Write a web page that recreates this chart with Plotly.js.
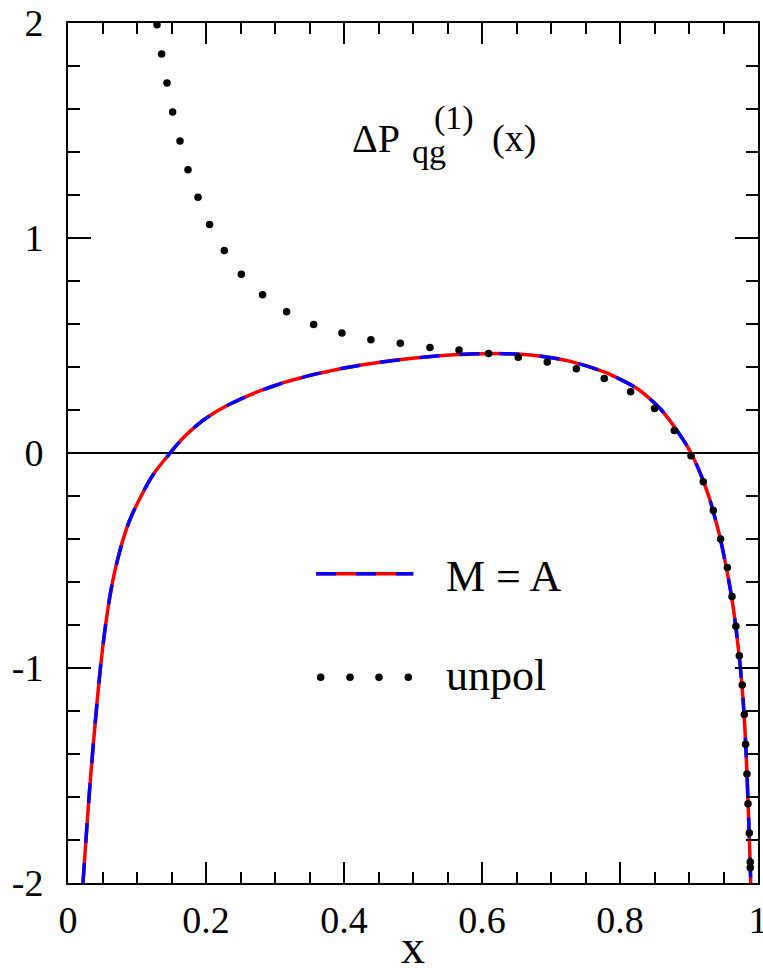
<!DOCTYPE html>
<html>
<head>
<meta charset="utf-8">
<script src="https://cdn.plot.ly/plotly-3.0.1.min.js"></script>
<style>
  html, body { margin: 0; padding: 0; background: #fff; }
  #chart { width: 763px; height: 973px; }
</style>
</head>
<body>
<div id="chart"></div>
<script>
// Polarized NLO splitting function ΔP_qg^(1)(x)
const xPol = [0.0217, 0.026, 0.0305, 0.0355, 0.041, 0.047, 0.0545, 0.0645, 0.08, 0.091, 0.106, 0.1235,
  0.148, 0.16, 0.17, 0.18, 0.192, 0.205, 0.22, 0.235, 0.25, 0.265, 0.28, 0.30, 0.317, 0.34, 0.36,
  0.38, 0.40, 0.425, 0.45, 0.49, 0.535, 0.583, 0.631, 0.68, 0.728, 0.776, 0.80, 0.8246, 0.842,
  0.860, 0.8835, 0.903, 0.917, 0.9285, 0.9375, 0.9455, 0.952, 0.958, 0.9632, 0.9675, 0.9712,
  0.9745, 0.9795, 0.9828, 0.9853, 0.9875, 0.9895];
const yPol = [-2.0, -1.8, -1.6, -1.4, -1.2, -1.0, -0.8, -0.6, -0.4, -0.3, -0.2, -0.1,
  0.0, 0.046, 0.08, 0.11, 0.143, 0.172, 0.202, 0.228, 0.251, 0.272, 0.291, 0.314, 0.332, 0.352, 0.368,
  0.382, 0.395, 0.409, 0.421, 0.437, 0.451, 0.46, 0.462, 0.452, 0.426, 0.378, 0.343, 0.300, 0.256,
  0.2, 0.1, 0.0, -0.1, -0.2, -0.3, -0.4, -0.5, -0.6, -0.7, -0.8, -0.9,
  -1.0, -1.2, -1.4, -1.6, -1.8, -2.0];

// Unpolarized counterpart
const xUnpol = [0.129, 0.1357, 0.1435, 0.1516, 0.1623, 0.1739, 0.1884, 0.2052, 0.2265, 0.2512,
  0.282, 0.3168, 0.356, 0.397, 0.439, 0.4816, 0.5246, 0.5667, 0.6096, 0.6526, 0.6946, 0.7367,
  0.7772, 0.8154, 0.850, 0.8787, 0.9029, 0.9207, 0.9352, 0.9458, 0.9555, 0.9623, 0.968, 0.9729,
  0.9772, 0.9801, 0.982, 0.984, 0.9855, 0.9874, 0.9888, 0.9888];
const yUnpol = [1.992, 1.856, 1.721, 1.586, 1.451, 1.318, 1.189, 1.063, 0.942, 0.831,
  0.736, 0.657, 0.598, 0.558, 0.527, 0.510, 0.491, 0.479, 0.463, 0.445, 0.423, 0.392,
  0.347, 0.285, 0.2075, 0.105, -0.0126, -0.1335, -0.267, -0.400, -0.533, -0.668, -0.806, -0.943,
  -1.079, -1.216, -1.355, -1.493, -1.631, -1.767, -1.902, -1.929];

const yTickVals = [-2, -1, 0, 1, 2];
const yTickText = ['-2', '-1', '0', '1', '2'];
const xTickVals = [0, 0.2, 0.4, 0.6, 0.8, 1];
const xTickText = ['0', '0.2', '0.4', '0.6', '0.8', '1'];

const legendLabels = ['M = A', 'unpol'];
const xAxisLabel = 'x';

const FONT = "'Liberation Serif', 'Times New Roman', serif";

const traces = [
  { x: xPol, y: yPol, mode: 'lines', line: { color: '#ff0000', width: 3.5, shape: 'spline', smoothing: 1 }, hoverinfo: 'skip' },
  { x: xPol, y: yPol, mode: 'lines', line: { color: '#0000ff', width: 3.5, dash: '20px,20px', shape: 'spline', smoothing: 1 }, hoverinfo: 'skip' },
  { x: xUnpol, y: yUnpol, mode: 'markers', marker: { color: '#000', size: 7.5 }, hoverinfo: 'skip' }
];

// plot box in pixels: left 68, right 758, top 23, bottom 883
const px = v => (v - 68) / 690;
const py = v => (883 - v) / 860;

const legendDots = [320.7, 350, 379, 408.3].map(cx => ({
  type: 'circle', xref: 'paper', yref: 'paper', xsizemode: 'pixel', ysizemode: 'pixel',
  xanchor: px(cx), yanchor: py(677.3), x0: -3.8, x1: 3.8, y0: -3.8, y1: 3.8,
  fillcolor: '#000', line: { width: 0 }
}));

const shapes = [
  { type: 'line', xref: 'paper', yref: 'paper', x0: px(316), x1: px(413.3), y0: py(573.7), y1: py(573.7),
    line: { color: '#ff0000', width: 3.5 } },
  { type: 'line', xref: 'paper', yref: 'paper', x0: px(316), x1: px(413.3), y0: py(573.7), y1: py(573.7),
    line: { color: '#0000ff', width: 3.5, dash: '20px,20px' } },
  ...legendDots
];

const ann = (text, x, y, size, xanchor) => ({
  text, xref: 'paper', yref: 'paper', x, y, xanchor: xanchor || 'left', yanchor: 'middle',
  showarrow: false, borderpad: 0, font: { family: FONT, size, color: '#000' }
});

const annotations = [
  ann('ΔP', px(351), py(138), 40),
  ann('qg', px(411), py(151), 34),
  ann('(1)', px(433), py(118), 34),
  ann('(x)', px(491), py(138), 38),
  ann(legendLabels[0], px(445), py(576), 44),
  ann(legendLabels[1], px(445), py(675), 44),
  ann(xAxisLabel, px(413), py(946), 48, 'center')
];

const layout = {
  width: 763, height: 973,
  margin: { l: 68, r: 5, t: 23, b: 90 },
  paper_bgcolor: '#fff', plot_bgcolor: '#fff',
  showlegend: false,
  font: { family: FONT, color: '#000' },
  xaxis: {
    range: [0, 1], tickvals: xTickVals, ticktext: xTickText,
    ticks: 'inside', ticklen: 21, tickwidth: 2, tickcolor: '#000',
    minor: { dtick: 0.05, ticks: 'inside', ticklen: 11, tickwidth: 2, tickcolor: '#000', showgrid: false },
    showline: true, linecolor: '#000', linewidth: 2, mirror: 'ticks',
    showgrid: false, zeroline: false,
    tickfont: { family: FONT, size: 38, color: '#000' },
    ticklabelstandoff: 2,
    ticklabeloverflow: 'allow'
  },
  yaxis: {
    range: [-2, 2], tickvals: yTickVals, ticktext: yTickText,
    ticks: 'inside', ticklen: 23, tickwidth: 2, tickcolor: '#000',
    minor: { dtick: 0.2, ticks: 'inside', ticklen: 12, tickwidth: 2, tickcolor: '#000', showgrid: false },
    showline: true, linecolor: '#000', linewidth: 2, mirror: 'ticks',
    showgrid: false, zeroline: true, zerolinecolor: '#000', zerolinewidth: 1.6,
    tickfont: { family: FONT, size: 38, color: '#000' },
    ticklabelstandoff: 15,
    ticklabeloverflow: 'allow'
  },
  shapes, annotations
};

Plotly.newPlot('chart', traces, layout, { staticPlot: true, displayModeBar: false });
</script>
</body>
</html>
